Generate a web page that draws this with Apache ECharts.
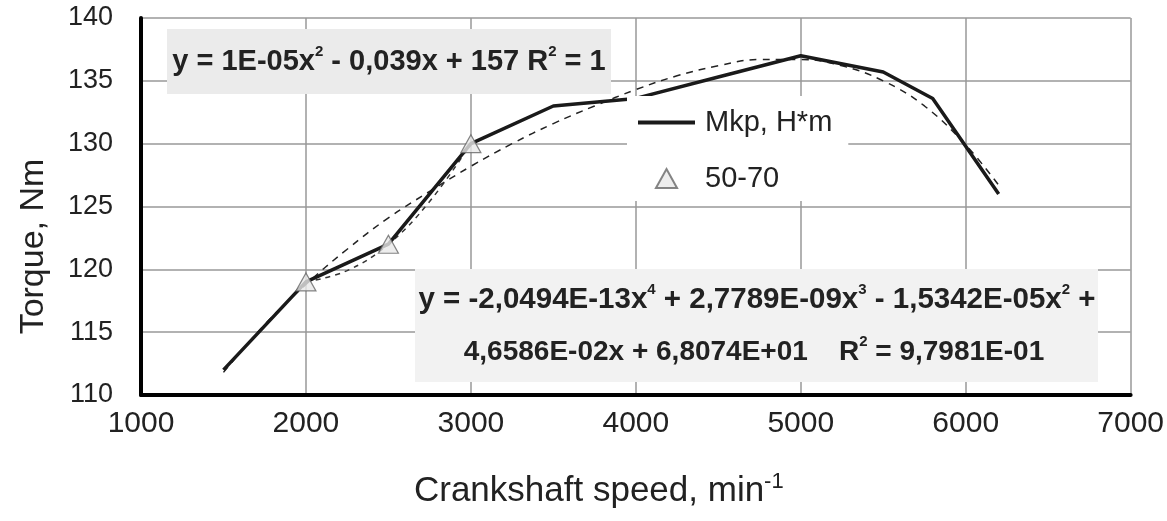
<!DOCTYPE html>
<html>
<head>
<meta charset="utf-8">
<title>Torque vs crankshaft speed</title>
<script src="https://cdn.jsdelivr.net/npm/echarts/dist/echarts.min.js"></script>
<style>
  html, body { margin: 0; padding: 0; background: #fff; }
  #chart { width: 1167px; height: 521px; }
</style>
</head>
<body>
<div id="chart"></div>
<script>
// measured torque curve (solid line)
const speed = [1500, 2000, 2500, 3000, 3500, 4000, 4500, 5000, 5500, 5800, 6200];
const torque = [112, 119, 122, 130, 133, 133.6, 135.3, 137, 135.7, 133.6, 126];

// test points "50-70"
const testSpeed = [2000, 2500, 3000];
const testTorque = [119, 122, 130];

// quadratic trend through the test points
const quadSpeed = [2000, 2250, 2500, 2750, 3000];
const quadTorque = [119, 119.9, 122, 125.4, 130];

// 4th order trend of the whole curve
const polySpeed = [1500, 1750, 2000, 2250, 2500, 2750, 3000, 3250, 3500, 3750, 4000, 4250, 4500, 4750, 5000, 5250, 5500, 5750, 6000, 6200];
const polyTorque = [111.8, 115.6, 118.8, 121.6, 124.1, 126.2, 128.2, 130, 131.6, 133, 134.3, 135.4, 136.2, 136.7, 136.7, 136.2, 135, 133, 129.9, 126.7];

const xTicks = [1000, 7000, 1000];   // min, max, step
const yTicks = [110, 140, 5];

const pairs = (xs, ys) => xs.map((x, i) => [x, ys[i]]);

const font = "'Liberation Sans', Arial, sans-serif";

// little helper for the trendline equation labels
const eqText = (x, y, text, size) => ({
  type: "text",
  x: x,
  y: y,
  z: 6,
  style: {
    text: text,
    fontFamily: font,
    fontWeight: "bold",
    fontSize: size,
    lineHeight: 36,
    fill: "#222",
    align: "center",
    verticalAlign: "middle",
    rich: {
      sup: { fontFamily: font, fontWeight: "bold", fontSize: 15, fill: "#222", verticalAlign: "top", lineHeight: 17 }
    }
  }
});

const chart = echarts.init(document.getElementById("chart"), null, { renderer: "canvas" });

const option = {
  animation: false,
  grid: { left: 141, right: 34, top: 18, bottom: 126 },
  legend: {
    orient: "vertical",
    left: 627,
    top: 96,
    padding: [12, 16, 8, 11],
    backgroundColor: "#fff",
    itemWidth: 57,
    itemHeight: 19,
    itemGap: 27,
    textStyle: { fontFamily: font, fontSize: 29, color: "#222", padding: [0, 0, 0, 5] },
    data: [
      { name: "Mkp, H*m", icon: "path://M0,0 H57 V4 H0 Z" },
      { name: "50-70", icon: "path://M10,0 L20,18 L0,18 Z" }
    ]
  },
  xAxis: {
    type: "value",
    min: xTicks[0],
    max: xTicks[1],
    interval: xTicks[2],
    name: "Crankshaft speed, min{sup|-1}",
    nameLocation: "middle",
    nameGap: 76,
    nameTextStyle: {
      fontFamily: font,
      fontSize: 35,
      color: "#222",
      lineHeight: 40,
      padding: [0, 74, 0, 0],
      rich: {
        sup: { fontFamily: font, fontSize: 22, color: "#222", verticalAlign: "top", lineHeight: 20 }
      }
    },
    axisLine: { show: true, onZero: false, lineStyle: { color: "#000", width: 4 } },
    axisTick: { show: false },
    axisLabel: { fontFamily: font, fontSize: 30, color: "#222", margin: 14, formatter: (v) => String(v) },
    splitLine: { show: true, lineStyle: { color: "#999", width: 1.5 } }
  },
  yAxis: {
    type: "value",
    min: yTicks[0],
    max: yTicks[1],
    interval: yTicks[2],
    name: "Torque, Nm",
    nameLocation: "middle",
    nameGap: 90,
    nameTextStyle: { fontFamily: font, fontSize: 34, color: "#222", padding: [0, 80, 0, 0] },
    axisLine: { show: true, onZero: false, lineStyle: { color: "#000", width: 4 } },
    axisTick: { show: false },
    axisLabel: { fontFamily: font, fontSize: 27, color: "#222", margin: 28 },
    splitLine: { show: true, lineStyle: { color: "#999", width: 1.5 } }
  },
  series: [
    {
      name: "poly4",
      type: "line",
      data: pairs(polySpeed, polyTorque),
      smooth: 0.4,
      symbol: "none",
      lineStyle: { color: "#222", width: 1.5, type: [7, 6] },
      z: 2
    },
    {
      name: "quad",
      type: "line",
      data: pairs(quadSpeed, quadTorque),
      smooth: 0.4,
      symbol: "none",
      lineStyle: { color: "#333", width: 1.5, type: [5, 5] },
      z: 2
    },
    {
      name: "Mkp, H*m",
      type: "line",
      data: pairs(speed, torque),
      symbol: "none",
      lineStyle: { color: "#1a1a1a", width: 3.5 },
      itemStyle: { color: "#1a1a1a" },
      z: 3
    },
    {
      name: "50-70",
      type: "scatter",
      data: pairs(testSpeed, testTorque),
      symbol: "triangle",
      symbolSize: [20, 18],
      itemStyle: { color: "#e8e8e8", borderColor: "#666", borderWidth: 1.2 },
      z: 4
    }
  ],
  graphic: {
    elements: [
      { type: "rect", shape: { x: 167, y: 29, width: 444, height: 65 }, style: { fill: "#ebebeb" }, z: 5 },
      eqText(389, 62, "y = 1E-05x{sup|2} - 0,039x + 157 R{sup|2} = 1", 29),
      { type: "rect", shape: { x: 415, y: 269, width: 683, height: 113 }, style: { fill: "#f2f2f2" }, z: 5 },
      eqText(757, 300, "y = -2,0494E-13x{sup|4} + 2,7789E-09x{sup|3} - 1,5342E-05x{sup|2} +", 29.5),
      eqText(754, 352, "4,6586E-02x + 6,8074E+01    R{sup|2} = 9,7981E-01", 28)
    ]
  }
};

chart.setOption(option);
</script>
</body>
</html>
